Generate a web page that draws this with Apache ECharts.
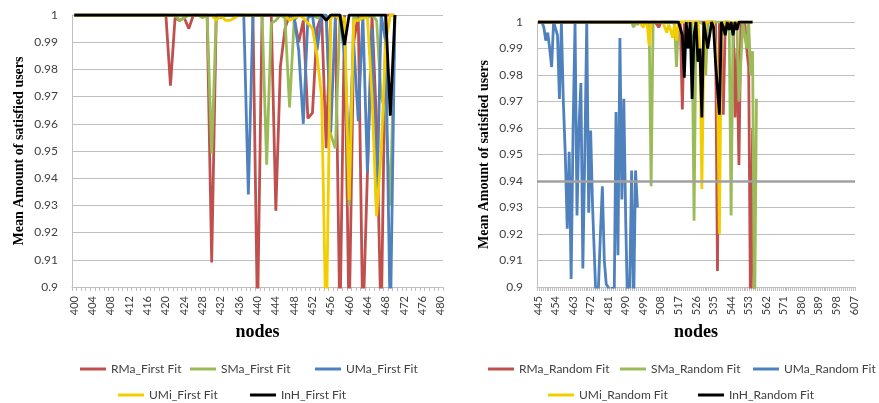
<!DOCTYPE html>
<html lang="en">
<head>
  <meta charset="UTF-8">
  <script src="https://cdn.jsdelivr.net/npm/echarts@6/dist/echarts.min.js"></script>
  <title>satisfied users</title>
</head>
<body style="margin:0;background:#fff;">
<div id="chart" style="width: 879px; height: 403px;"></div>
<script type="text/javascript">
  // x categories (tick labels)
  function range(a, b) {
    let out = [];
    for (let i = a; i <= b; i++) out.push(String(i));
    return out;
  }
  const nodesLeft  = range(400, 480);
  const nodesRight = range(445, 607);

  // ---- First Fit, nodes 400..470 ----
  const rmaFirst = [
    1, 1, 1, 1, 1, 1, 1, 1, 1, 1,
    1, 1, 1, 1, 1, 1, 1, 1, 1, 1,
    1, 0.974, 0.999, 0.998, 0.999, 0.995, 1, 1, 1, 1,
    0.909, 1, 1, 1, 1, 1, 1, 1, 1, 1,
    0.888, 1, 1, 1, 0.928, 0.981, 0.995, 1, 0.999, 0.99,
    0.998, 0.962, 0.964, 0.995, 1, 0.951, 1, 1, 0.885, 1,
    0.885, 0.99, 1, 0.885, 0.942, 1, 0.96, 0.885, 1, 1,
    1
  ];
  const smaFirst = [
    1, 1, 1, 1, 1, 1, 1, 1, 1, 1,
    1, 1, 1, 1, 1, 1, 1, 1, 1, 1,
    1, 1, 1, 0.998, 0.999, 1, 1, 1, 0.999, 1,
    0.949, 1, 0.999, 1, 1, 1, 1, 1, 1, 1,
    1, 1, 0.945, 0.997, 0.998, 1, 0.999, 0.966, 0.998, 1,
    1, 1, 1, 0.999, 0.999, 1, 0.956, 0.951, 1, 0.995,
    0.93, 1, 0.998, 1, 0.999, 1, 0.998, 0.97, 0.964, 0.93,
    1
  ];
  const umaFirst = [
    1, 1, 1, 1, 1, 1, 1, 1, 1, 1,
    1, 1, 1, 1, 1, 1, 1, 1, 1, 1,
    1, 1, 1, 1, 1, 1, 1, 1, 1, 1,
    1, 1, 1, 1, 1, 1, 1, 1, 0.934, 1,
    1, 1, 1, 1, 1, 1, 1, 1, 0.999, 0.987,
    0.96, 0.999, 1, 0.987, 1, 1, 0.957, 1, 1, 0.985,
    0.948, 0.99, 0.961, 1, 0.942, 0.995, 0.927, 1, 0.99, 0.885,
    1
  ];
  const umiFirst = [
    1, 1, 1, 1, 1, 1, 1, 1, 1, 1,
    1, 1, 1, 1, 1, 1, 1, 1, 1, 1,
    1, 1, 1, 1, 1, 1, 1, 1, 1, 1,
    1, 0.998, 1, 0.998, 0.998, 0.999, 1, 1, 1, 1,
    1, 1, 1, 1, 1, 1, 1, 0.998, 0.999, 1,
    0.999, 0.997, 0.995, 0.985, 0.97, 0.88, 0.999, 1, 0.998, 0.999,
    0.932, 0.998, 0.998, 0.999, 0.999, 0.97, 0.926, 0.95, 0.99, 1,
    1
  ];
  const inhFirst = [
    1, 1, 1, 1, 1, 1, 1, 1, 1, 1,
    1, 1, 1, 1, 1, 1, 1, 1, 1, 1,
    1, 1, 1, 1, 1, 1, 1, 1, 1, 1,
    1, 1, 1, 1, 1, 1, 1, 1, 1, 1,
    1, 1, 1, 1, 1, 1, 1, 1, 1, 1,
    1, 1, 1, 1, 1, 0.998, 1, 1, 1, 0.989,
    1, 1, 1, 1, 1, 1, 1, 1, 1, 0.963,
    1
  ];

  // ---- Random Fit, nodes from 445 ----
  const rmaRandom = [
    1, 1, 1, 1, 1, 1, 1, 1, 1, 1,
    1, 1, 1, 1, 1, 1, 1, 1, 1, 1,
    1, 1, 1, 1, 1, 1, 1, 1, 1, 1,
    1, 1, 1, 1, 1, 1, 1, 1, 1, 1,
    1, 1, 1, 1, 1, 1, 1, 1, 1, 1,
    1, 1, 1, 1, 1, 1, 1, 1, 1, 1,
    1, 1, 0.998, 1, 1, 1, 1, 1, 1, 1,
    1, 1, 1, 0.999, 0.967, 1, 1, 1, 1, 1,
    1, 1, 1, 1, 1, 1, 1, 1, 1, 1,
    1, 1, 0.906, 1, 0.99, 0.965, 1, 1, 1, 1,
    0.999, 0.964, 0.99, 0.946, 1, 0.999, 1, 0.99, 0.983, 0.885,
    0.96, 0.885
  ];
  const smaRandom = [
    1, 1, 1, 1, 1, 1, 1, 1, 1, 1,
    1, 1, 1, 1, 1, 1, 1, 1, 1, 1,
    1, 1, 1, 1, 1, 1, 1, 1, 1, 1,
    1, 1, 1, 1, 1, 1, 1, 1, 1, 1,
    1, 1, 1, 1, 1, 1, 1, 1, 1, 0.998,
    1, 0.999, 1, 1, 1, 1, 1, 0.998, 0.938, 1,
    1, 1, 1, 1, 1, 1, 1, 1, 1, 1,
    0.999, 0.983, 1, 1, 1, 1, 1, 1, 1, 0.999,
    0.925, 1, 1, 1, 1, 0.999, 0.98, 1, 1, 1,
    1, 1, 1, 1, 1, 1, 1, 1, 0.999, 0.927,
    1, 0.999, 0.998, 0.97, 0.985, 1, 0.995, 0.99, 1, 0.98,
    0.989, 0.885, 0.971
  ];
  const umaRandom = [
    1, 1, 1, 0.998, 0.993, 0.996, 0.99, 0.983, 1, 1,
    0.995, 0.971, 1, 0.97, 0.95, 0.922, 0.951, 0.903, 0.96, 1,
    0.927, 0.96, 0.977, 0.907, 0.95, 1, 0.928, 0.959, 0.93, 0.91,
    0.89, 0.9, 0.92, 0.938, 0.91, 0.901, 0.9, 0.89, 0.9, 0.89,
    0.966, 0.912, 0.994, 0.933, 0.971, 0.924, 0.89, 0.9, 0.944, 0.89,
    0.944, 0.93
  ];
  const umiRandom = [
    1, 1, 1, 1, 1, 1, 1, 1, 1, 1,
    1, 1, 1, 1, 1, 1, 1, 1, 1, 1,
    1, 1, 1, 1, 1, 1, 1, 1, 1, 1,
    1, 1, 1, 1, 1, 1, 1, 1, 1, 1,
    1, 1, 1, 1, 1, 1, 1, 1, 1, 1,
    1, 1, 1, 1, 0.998, 1, 0.999, 0.991, 1, 1,
    1, 1, 1, 1, 1, 1, 0.996, 0.999, 0.997, 0.994,
    0.999, 0.993, 1, 1, 1, 1, 1, 1, 1, 1,
    1, 1, 1, 0.99, 0.937, 0.99, 1, 1, 1, 1,
    1, 0.99, 0.98, 0.92, 0.995, 1, 0.999, 1, 1, 1,
    0.999, 1, 1, 1, 1, 1, 1, 1, 1, 1,
    1
  ];
  const inhRandom = [
    1, 1, 1, 1, 1, 1, 1, 1, 1, 1,
    1, 1, 1, 1, 1, 1, 1, 1, 1, 1,
    1, 1, 1, 1, 1, 1, 1, 1, 1, 1,
    1, 1, 1, 1, 1, 1, 1, 1, 1, 1,
    1, 1, 1, 1, 1, 1, 1, 1, 1, 1,
    1, 1, 1, 1, 1, 1, 1, 1, 1, 1,
    1, 1, 1, 1, 1, 1, 1, 1, 1, 1,
    1, 1, 1, 1, 0.995, 0.979, 1, 0.99, 1, 0.971,
    0.995, 1, 0.985, 0.99, 0.964, 1, 0.995, 0.99, 0.99, 1,
    0.998, 0.985, 0.975, 0.965, 1, 0.998, 0.995, 1, 0.997, 1,
    0.995, 1, 0.997, 1, 1, 1, 1, 1, 1, 1,
    1
  ];

  const colors = {
    RMa: '#C0504D',
    SMa: '#9BBB59',
    UMa: '#4F81BD',
    UMi: '#F2CE00',
    InH: '#000000'
  };

  const labelFont = 'Lato';
  const titleFont = 'Liberation Serif';

  function lineSeries(name, data, color, idx) {
    return {
      name: name,
      type: 'line',
      xAxisIndex: idx,
      yAxisIndex: idx,
      data: data,
      showSymbol: false,
      symbol: 'none',
      clip: true,
      lineStyle: {color: color, width: 2.8},
      itemStyle: {color: color},
      z: 3
    };
  }

  function xAxisCfg(idx, cats, every) {
    return {
      type: 'category',
      gridIndex: idx,
      data: cats,
      name: 'nodes',
      nameLocation: 'middle',
      nameGap: 25,
      nameTextStyle: {fontFamily: titleFont, fontWeight: 'bold', fontSize: 18, color: '#000'},
      axisLine: {lineStyle: {color: '#BFBFBF', width: 1}},
      axisTick: {show: true, interval: 0, length: 4, lineStyle: {color: '#BFBFBF'}},
      axisLabel: {interval: every - 1, rotate: 90, fontFamily: labelFont, fontSize: 11, color: '#404040', margin: 9},
      splitLine: {show: false}
    };
  }

  function yAxisCfg(idx) {
    return {
      type: 'value',
      gridIndex: idx,
      min: 0.9,
      max: 1,
      interval: 0.01,
      name: 'Mean Amount of satisfied users',
      nameLocation: 'middle',
      nameRotate: 90,
      nameGap: 46,
      nameTextStyle: {fontFamily: titleFont, fontWeight: 'bold', fontSize: 14, color: '#000'},
      axisLine: {show: true, lineStyle: {color: '#BFBFBF'}},
      axisTick: {show: false},
      axisLabel: {
        fontFamily: labelFont, fontSize: 12, color: '#404040', margin: 14,
        formatter: function (v) { return String(Math.round(v * 100) / 100); }
      },
      splitLine: {show: true, lineStyle: {color: '#BEBEBE', width: 1}}
    };
  }

  function legendItem(name, left, top) {
    return {
      data: [name],
      left: left,
      top: top,
      icon: 'rect',
      itemWidth: 26,
      itemHeight: 3,
      itemGap: 0,
      padding: 0,
      selectedMode: false,
      textStyle: {fontFamily: labelFont, fontSize: 12, color: '#404040'}
    };
  }

  function drawChart() {
    let myChart = echarts.init(document.getElementById('chart'));
    let option = {
      animation: false,
      backgroundColor: '#ffffff',
      grid: [
        {left: 72, top: 15, width: 371, height: 272},
        {left: 537, top: 22, width: 318, height: 265}
      ],
      xAxis: [xAxisCfg(0, nodesLeft, 4), xAxisCfg(1, nodesRight, 9)],
      yAxis: [yAxisCfg(0), yAxisCfg(1)],
      legend: [
        legendItem('RMa_First Fit', 80, 363),
        legendItem('SMa_First Fit', 190, 363),
        legendItem('UMa_First Fit', 315, 363),
        legendItem('UMi_First Fit', 118, 389),
        legendItem('InH_First Fit', 250, 389),
        legendItem('RMa_Random Fit', 488, 363),
        legendItem('SMa_Random Fit', 620, 363),
        legendItem('UMa_Random Fit', 753, 363),
        legendItem('UMi_Random Fit', 548, 389),
        legendItem('InH_Random Fit', 698, 389)
      ],
      series: [
        lineSeries('RMa_First Fit', rmaFirst, colors.RMa, 0),
        lineSeries('SMa_First Fit', smaFirst, colors.SMa, 0),
        lineSeries('UMa_First Fit', umaFirst, colors.UMa, 0),
        lineSeries('UMi_First Fit', umiFirst, colors.UMi, 0),
        lineSeries('InH_First Fit', inhFirst, colors.InH, 0),
        {
          // darker reference gridline at 0.94 in the right panel
          name: 'ref094',
          type: 'line',
          xAxisIndex: 1,
          yAxisIndex: 1,
          data: [],
          z: 2,
          markLine: {
            silent: true,
            symbol: 'none',
            label: {show: false},
            lineStyle: {color: '#A0A0A0', width: 2.5, type: 'solid'},
            data: [{yAxis: 0.94}]
          }
        },
        lineSeries('RMa_Random Fit', rmaRandom, colors.RMa, 1),
        lineSeries('SMa_Random Fit', smaRandom, colors.SMa, 1),
        lineSeries('UMa_Random Fit', umaRandom, colors.UMa, 1),
        lineSeries('UMi_Random Fit', umiRandom, colors.UMi, 1),
        lineSeries('InH_Random Fit', inhRandom, colors.InH, 1)
      ]
    };
    myChart.setOption(option);
  }

  drawChart();
</script>
</body>
</html>
